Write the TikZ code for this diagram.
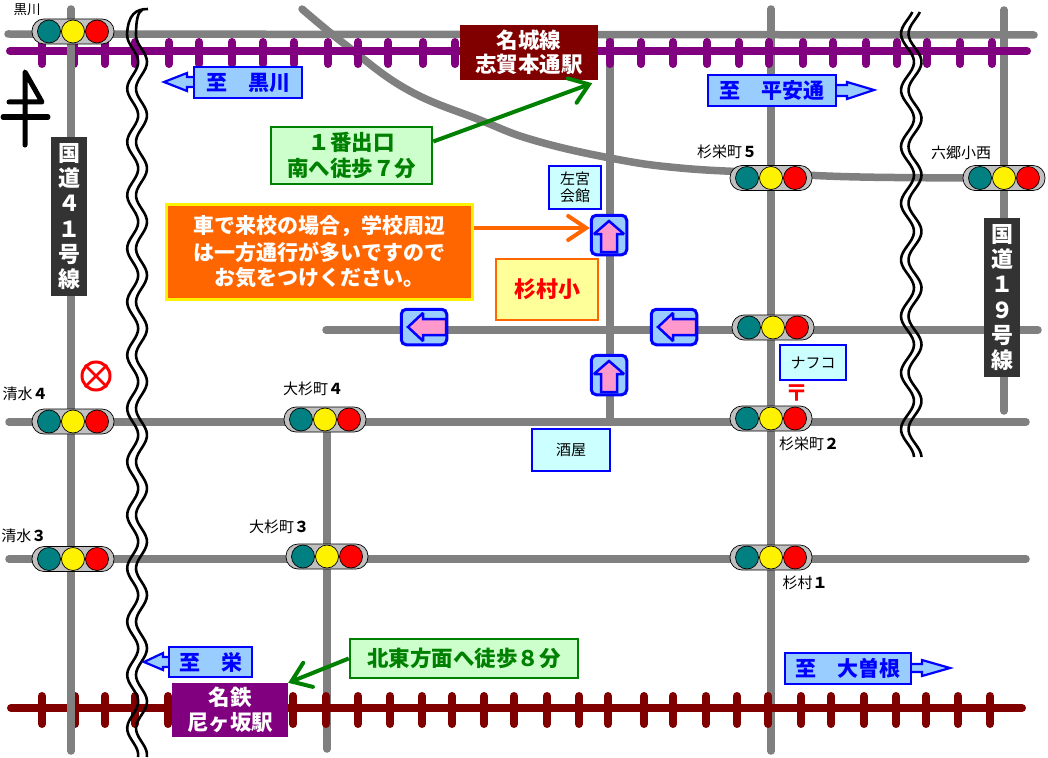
\documentclass[tikz,border=0pt]{standalone}
\usepackage{fontspec}
\setmainfont{Noto Sans CJK JP}
\usetikzlibrary{positioning, arrows.meta}
\definecolor{road_gray}{HTML}{808080}
\definecolor{purple_track}{HTML}{800080}
\definecolor{red_track}{HTML}{800000}
\definecolor{teal_lamp}{HTML}{008080}
\definecolor{body_gray}{HTML}{C0C0C0}
\definecolor{sign_blue}{HTML}{99CCFF}
\definecolor{sign_pink}{HTML}{FF99CC}
\definecolor{pale_green}{HTML}{CCFFCC}
\definecolor{pale_cyan}{HTML}{CCFFFF}
\definecolor{pale_yellow}{HTML}{FFFF99}
\definecolor{note_orange}{HTML}{FF6600}
\definecolor{dark_green}{HTML}{008000}
\definecolor{route_gray}{HTML}{333333}

\newcommand{\fsize}[1]{\fontsize{#1}{#1}\selectfont}

\newcommand{\trafficlight}[2]{
  \node[light_body] (#1) at (#2) {};
  \node[lamp, fill=yellow] (#1_y) at (#1) {};
  \node[lamp, fill=teal_lamp, left=1pt of #1_y] (#1_t) {};
  \node[lamp, fill=red, right=1pt of #1_y] (#1_r) {};
}
\newcommand{\upsign}[2]{
  \node[oneway, minimum width=35.5pt, minimum height=39.5pt] (#1) at (#2) {};
  \draw[oneway_arrow] (#1.center) ++(0,-14) -- ++(15,13) -- ++(-7,0) -- ++(0,18) -- ++(-16,0) -- ++(0,-18) -- ++(-7,0) -- cycle;
}
\newcommand{\leftsign}[2]{
  \node[oneway, minimum width=45.5pt, minimum height=35.5pt] (#1) at (#2) {};
  \draw[oneway_arrow] (#1.center) ++(-16,0) -- ++(15,-14) -- ++(0,6) -- ++(23,0) -- ++(0,16) -- ++(-23,0) -- ++(0,6) -- cycle;
}

\begin{document}
\begin{tikzpicture}[x=1pt, y=-1pt,
    road/.style={road_gray, line width=7.5pt, line cap=round},
    rail_p/.style={purple_track, line width=8pt, line cap=round},
    rail_r/.style={red_track, line width=8pt, line cap=round},
    wave/.style={black, line width=2.6pt},
    light_body/.style={draw=black, line width=.7pt, fill=body_gray, rounded corners=12pt, minimum width=82pt, minimum height=25pt, inner sep=0pt, outer sep=0pt},
    lamp/.style={circle, draw=black, line width=.7pt, minimum size=23pt, inner sep=0pt, outer sep=0pt},
    oneway/.style={draw=blue, fill=sign_blue, line width=3pt, rounded corners=5pt, inner sep=0pt},
    oneway_arrow/.style={draw=blue, fill=sign_pink, line width=2.5pt, miter limit=2},
    dest/.style={draw=blue, fill=sign_blue, line width=2.6pt, text=blue, font=\fsize{21}\bfseries, inner sep=0pt},
    dest_arrow/.style={draw=blue, fill=sign_blue, line width=2.2pt},
    shop/.style={draw=blue, fill=pale_cyan, line width=2.6pt, font=\fsize{15}, align=center, inner sep=0pt},
    walk/.style={draw=dark_green, fill=pale_green, line width=2.6pt, text=dark_green, align=center, font=\fsize{21.5}\bfseries, inner sep=0pt},
    walk_arrow/.style={dark_green, line width=4pt, -{Straight Barb[length=18pt, width=26pt, line cap=round]}},
    station/.style={text=white, align=center, font=\fsize{21.5}\bfseries, inner sep=0pt},
    route/.style={fill=route_gray, text=white, align=center, font=\fontsize{22}{25.3}\bfseries\selectfont, minimum width=36pt, minimum height=159pt, inner sep=0pt},
    place/.style={font=\fsize{15}, inner sep=0pt}]

  \useasboundingbox (0,0) rectangle (1048,757);
  \fill[white] (0,0) rectangle (1048,757);

  % Roads
  \draw[road] (8,34) -- (1034,35);
  \draw[road] (9,422) -- (1026,422);
  \draw[road] (9,559) -- (1026,559);
  \draw[road] (326,330) -- (1038,330);
  \draw[road] plot[smooth, tension=.7] coordinates {(302,9) (347,46) (408,90) (480,120) (533,140) (610,158) (680,168) (770,173) (860,177) (1002,178)};
  \draw[road] (610,35) -- (610,422);
  \draw[road] (771,9) -- (771,751);
  \draw[road] (1004,10) -- (1004,411);
  \draw[road] (327,422) -- (327,749);

  % Tracks
  \draw[rail_p] (10,51) -- (1027,51);
  \foreach \t in {42,74,105,135,169,199,232,263,294,328,358,388,423,455,610,641,673,707,739,769,803,833,866,897,927,960,992}
    \draw[rail_p] (\t,42) -- (\t,64);
  \draw[rail_r] (11,708) -- (1022,708);
  \foreach \t in {42,75,105,135,168,293,326,358,390,422,452,484,514,547,579,608,644,673,706,737,768,801,831,864,896,926,958,990}
    \draw[rail_r] (\t,696) -- (\t,724);
  \draw[road] (71,9) -- (71,751);

  % Break marks
  \draw[wave] (148,9) .. controls (136,9) and (128,14) .. (127,35);
  \draw[wave] (142,10) .. controls (138,12) and (136,20) .. (136,35);
  \draw[wave] plot[domain=35:757, samples=220, smooth] ({132.7+5.5*cos(6.7542*(\x-62))},\x);
  \draw[wave] plot[domain=35:757, samples=220, smooth] ({141.5+5.5*cos(6.7542*(\x-62))},\x);
  \draw[wave] plot[domain=12:457, samples=140, smooth] ({907.5+6.5*cos(6.3717*(\x-62))},\x);
  \draw[wave] plot[domain=12:457, samples=140, smooth] ({915+6.5*cos(6.3717*(\x-62))},\x);

  % North mark
  \draw[black, line width=5pt, line cap=round, line join=round] (25,145) -- (25,72) -- (42,102) -- (9,102);
  \draw[black, line width=5pt, line cap=round] (3,117) -- (48,117);

  % Traffic lights
  \trafficlight{tl_kuro}{73,31.5}
  \trafficlight{tl_sk5}{771,178}
  \trafficlight{tl_rokugo}{1004,178}
  \trafficlight{tl_mid}{773,327.5}
  \trafficlight{tl_sk2}{771,418.5}
  \trafficlight{tl_sh4}{73,421.5}
  \trafficlight{tl_os4}{325,419.5}
  \trafficlight{tl_sh3}{73,559}
  \trafficlight{tl_os3}{327,556.5}
  \trafficlight{tl_sm1}{771,557.5}

  % One way signs
  \upsign{up_a}{609,235}
  \upsign{up_b}{609,375}
  \leftsign{left_a}{424,327}
  \leftsign{left_b}{674,327}

  % Direction signs
  \draw[dest_arrow] (193,77) -- (187,77) -- (187,73) -- (164,82) -- (187,91) -- (187,87) -- (193,87);
  \node[dest, minimum width=108pt, minimum height=31pt] (to_kuro) at (248,82.5) {至　黒川};
  \draw[dest_arrow] (837,85) -- (847,85) -- (847,82) -- (874,90) -- (847,99) -- (847,96) -- (837,96);
  \node[dest, minimum width=128pt, minimum height=31pt] (to_heian) at (772,90.5) {至　平安通};
  \draw[dest_arrow] (168,657) -- (163,657) -- (163,653) -- (144,662) -- (163,670) -- (163,667) -- (168,667);
  \node[dest, minimum width=83pt, minimum height=30pt] (to_sakae) at (210.5,662) {至　栄};
  \draw[dest_arrow] (912,664) -- (922,664) -- (922,660) -- (950,668) -- (922,676) -- (922,672) -- (912,672);
  \node[dest, minimum width=126pt, minimum height=31pt] (to_ozone) at (848,668.5) {至　大曽根};

  % Stations
  \node[station, fill=red_track, minimum width=138pt, minimum height=55pt] (meijo) at (529,52.5) {名城線\\[3pt]志賀本通駅};
  \node[station, fill=purple_track, minimum width=116pt, minimum height=54pt] (meitetsu) at (230,710) {名鉄\\[3pt]尼ヶ坂駅};

  % Notes
  \node[walk, minimum width=161pt, minimum height=57pt] (exit1) at (351.5,155.5) {１番出口\\[4pt]南へ徒歩７分};
  \node[walk, minimum width=228pt, minimum height=39pt] (exit2) at (464,658.5) {北東方面へ徒歩８分};
  \node[draw=yellow, fill=note_orange, text=white, line width=3pt, align=center, font=\fsize{21}\bfseries, minimum width=306pt, minimum height=95pt, inner sep=0pt] (car_note) at (319.5,252) {車で来校の場合，学校周辺\\[4pt]は一方通行が多いですので\\[4pt]お気をつけください。};
  \node[draw=note_orange, fill=pale_yellow, text=red, line width=2.6pt, font=\fsize{22}\bfseries, minimum width=102pt, minimum height=61pt, inner sep=0pt] (school) at (547,289.5) {杉村小};

  \draw[walk_arrow] ([yshift=14pt]exit1.east) -- ([xshift=-6pt,yshift=-3pt]meijo.south east);
  \draw[walk_arrow] (exit2.west) -- (meitetsu.north east);
  \draw[note_orange, line width=4pt, -{Straight Barb[length=18pt, width=24pt, line cap=round]}] ([yshift=24pt]car_note.east) -- ([yshift=7pt]up_a.west);

  % Shops
  \node[shop, minimum width=52pt, minimum height=43pt] (hall) at (575,187.5) {左宮\\[2pt]会館};
  \node[shop, minimum width=66pt, minimum height=35pt] (nafco) at (813,362.5) {ナフコ};
  \node[shop, minimum width=78pt, minimum height=42pt] (sakaya) at (571,450) {酒屋};
  \node[text=red, font=\fsize{23}\bfseries, inner sep=0pt] (post) at (797,393) {〒};
  \node[circle, draw=red, line width=3pt, minimum size=28pt, inner sep=0pt] (mark) at (96,376) {};
  \draw[red, line width=2.6pt] (mark.north west) -- (mark.south east);
  \draw[red, line width=2.6pt] (mark.north east) -- (mark.south west);

  % Route boards
  \node[route] (r41) at (69,216.5) {国\\道\\４\\１\\号\\線};
  \node[route] (r19) at (1002,297.5) {国\\道\\１\\９\\号\\線};

  % Place names
  \node[place, font=\fsize{13.5}] (n_kuro) at (27,10) {黒川};
  \node[place] (n_sk5) at (727,152) {杉栄町\textbf{５}};
  \node[place] (n_rokugo) at (961,153) {六郷小西};
  \node[place] (n_sh4) at (25,394) {清水\textbf{４}};
  \node[place] (n_os4) at (313,389) {大杉町\textbf{４}};
  \node[place] (n_sk2) at (809,444) {杉栄町\textbf{２}};
  \node[place] (n_sh3) at (24,536) {清水\textbf{３}};
  \node[place] (n_os3) at (279,527) {大杉町\textbf{３}};
  \node[place] (n_sm1) at (805,583) {杉村\textbf{１}};

\end{tikzpicture}
\end{document}
